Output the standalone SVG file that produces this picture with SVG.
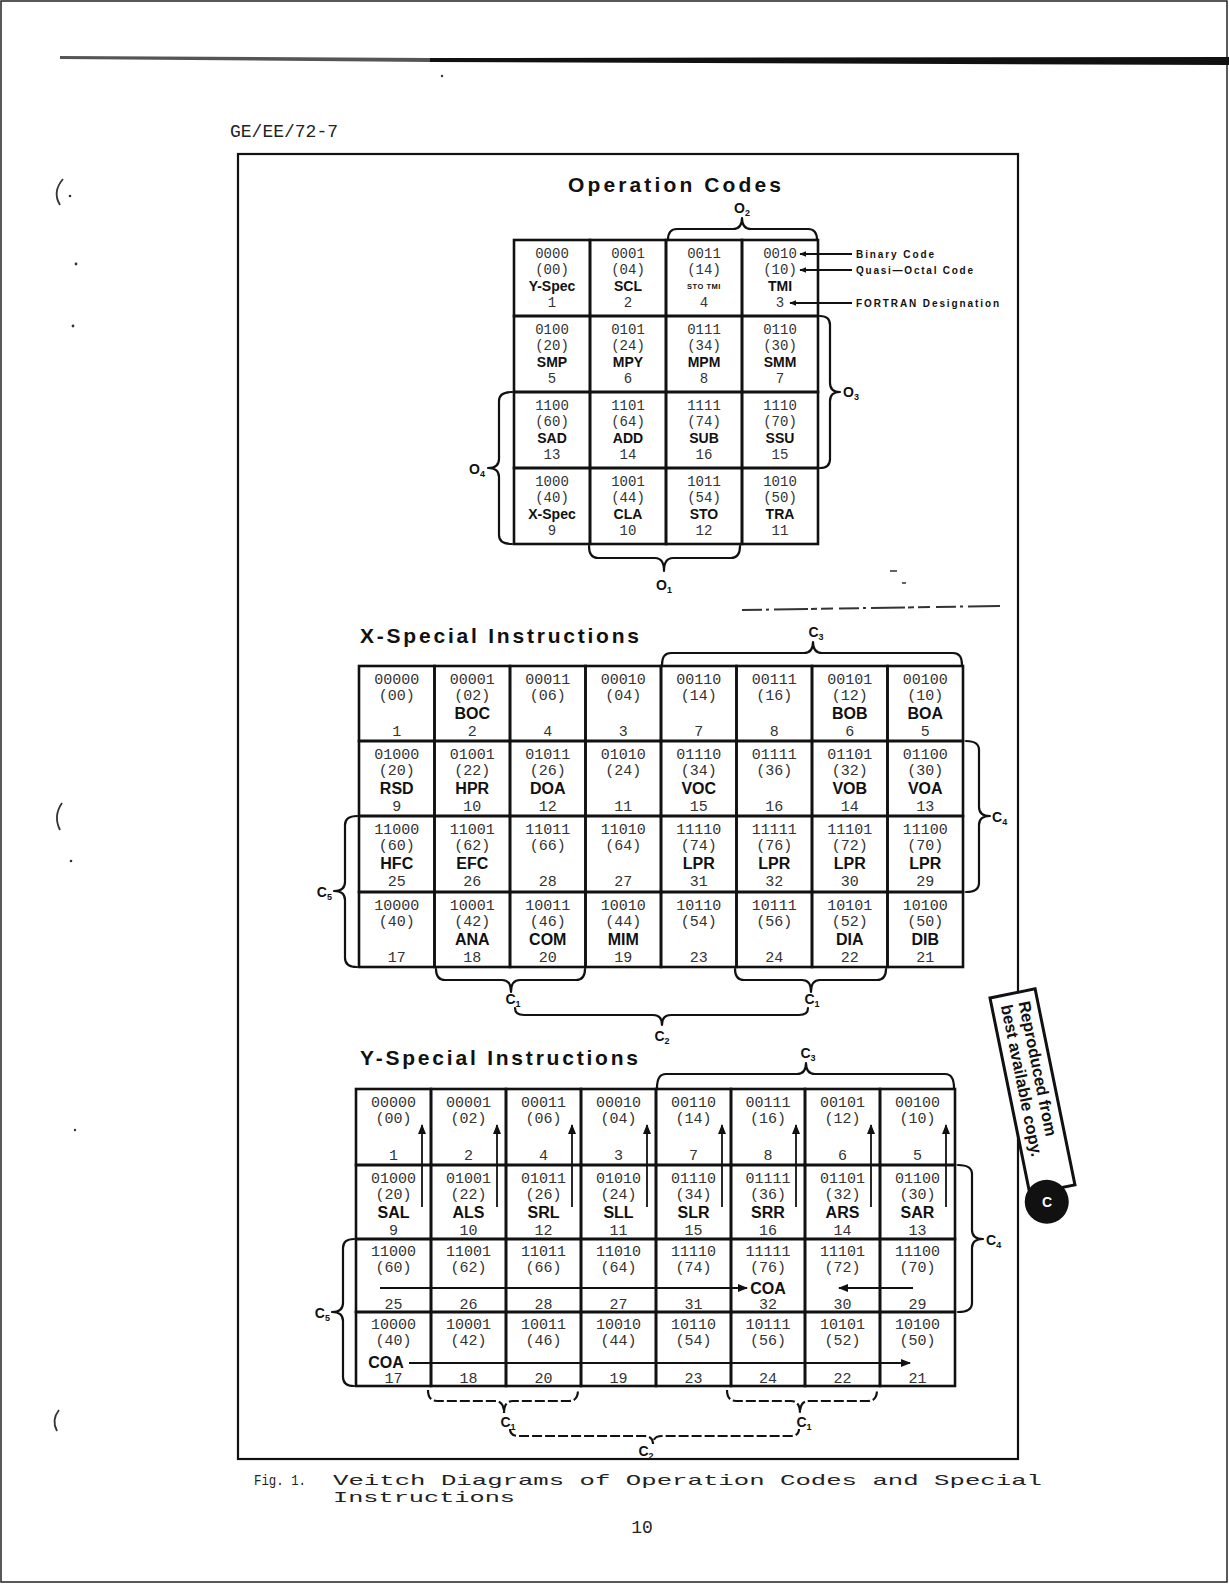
<svg xmlns="http://www.w3.org/2000/svg" width="1229" height="1584" viewBox="0 0 1229 1584">
<style>
.g{fill:none;stroke:#111;stroke-width:2.6}
.m{font-family:"Liberation Mono","DejaVu Sans Mono",monospace;font-size:15px;fill:#333;text-anchor:middle}
.mo{font-family:"Liberation Mono","DejaVu Sans Mono",monospace;font-size:14px;fill:#333;text-anchor:middle}
.nm{font-family:"Liberation Sans",Arial,sans-serif;font-weight:bold;font-size:16px;fill:#111;text-anchor:middle}
.no{font-family:"Liberation Sans",Arial,sans-serif;font-weight:bold;font-size:14px;fill:#111;text-anchor:middle}
.sm{font-family:"Liberation Sans",Arial,sans-serif;font-weight:bold;font-size:7.5px;letter-spacing:0.5px;fill:#111;text-anchor:middle}
.br{fill:none;stroke:#111;stroke-width:2.2;stroke-linejoin:round;stroke-linecap:round}
.brd{fill:none;stroke:#111;stroke-width:2.2;stroke-dasharray:10 3}
.lb{font-family:"Liberation Sans",Arial,sans-serif;font-weight:bold;font-size:14px;fill:#111}
.sub{font-size:9px}
.ttl{font-family:"Liberation Sans",Arial,sans-serif;font-weight:bold;font-size:21px;fill:#111}
.ann{font-family:"Liberation Sans",Arial,sans-serif;font-weight:bold;font-size:10px;fill:#111}
.ar{stroke:#111;stroke-width:1.8;fill:none}
.tw{font-family:"Liberation Mono","DejaVu Sans Mono",monospace;fill:#222}
.sp{fill:none;stroke:#333;stroke-width:1.8}
</style>
<defs>
<marker id="ah" markerUnits="userSpaceOnUse" markerWidth="10" markerHeight="8" viewBox="0 0 10 8" refX="9" refY="4" orient="auto"><path d="M0,0 L10,4 L0,8 Z" fill="#111"/></marker>
<marker id="as" markerUnits="userSpaceOnUse" markerWidth="7" markerHeight="6" viewBox="0 0 10 8" refX="9" refY="4" orient="auto"><path d="M0,0 L10,4 L0,8 Z" fill="#111"/></marker>
</defs>
<rect width="1229" height="1584" fill="#fff"/>
<rect x="1" y="1" width="1226" height="1581" fill="none" stroke="#222" stroke-width="1.5"/>
<g id="page">
<path d="M60,56 L430,58 L430,62 L60,59 Z" fill="#555"/>
<path d="M430,58 L1229,57 L1229,65 L430,62 Z" fill="#111"/>
<text class="tw" x="230" y="137" font-size="18">GE/EE/72-7</text>
<path class="sp" d="M63,179 Q52,192 60,205"/><circle cx="70" cy="196" r="1.3" fill="#333"/>
<circle cx="76" cy="264" r="1.4" fill="#333"/><circle cx="73" cy="326" r="1.4" fill="#333"/>
<path class="sp" d="M62,803 Q53,816 60,830"/><circle cx="71" cy="861" r="1.3" fill="#333"/>
<circle cx="75" cy="1130" r="1.2" fill="#333"/>
<path class="sp" d="M59,1410 Q51,1420 57,1431"/>
<circle cx="442" cy="76" r="1.2" fill="#333"/>
<path d="M742,610 L1000,606" stroke="#333" stroke-width="2" stroke-dasharray="20 4 3 5 34 3 6 4 12 6"/>
<path d="M890,571 L897,571 M902,583 L906,583" stroke="#333" stroke-width="1.6"/>
<rect x="238" y="154" width="780" height="1305" fill="none" stroke="#111" stroke-width="2.2"/>
<text class="tw" x="254" y="1485" font-size="15" textLength="52" lengthAdjust="spacingAndGlyphs">Fig. 1.</text>
<text class="tw" x="333" y="1485" font-size="15" textLength="709" lengthAdjust="spacingAndGlyphs">Veitch Diagrams of Operation Codes and Special</text>
<text class="tw" x="333" y="1502" font-size="15" textLength="182" lengthAdjust="spacingAndGlyphs">Instructions</text>
<text class="tw" x="642" y="1533" font-size="18" text-anchor="middle">10</text>
</g>
<g id="titles">
<text class="ttl" x="568" y="192" textLength="213" lengthAdjust="spacing">Operation Codes</text>
<text class="ttl" x="360" y="643" textLength="279" lengthAdjust="spacing">X-Special Instructions</text>
<text class="ttl" x="360" y="1065" textLength="278" lengthAdjust="spacing">Y-Special Instructions</text>
</g>
<!-- Operation Codes table -->
<g id="op-0000"><rect class="g" x="514" y="240" width="76" height="76"/><text class="mo" x="552" y="258">0000</text><text class="mo" x="552" y="274">(00)</text><text class="no" x="552" y="291">Y-Spec</text><text class="mo" x="552" y="307">1</text></g>
<g id="op-0001"><rect class="g" x="590" y="240" width="76" height="76"/><text class="mo" x="628" y="258">0001</text><text class="mo" x="628" y="274">(04)</text><text class="no" x="628" y="291">SCL</text><text class="mo" x="628" y="307">2</text></g>
<g id="op-0011"><rect class="g" x="666" y="240" width="76" height="76"/><text class="mo" x="704" y="258">0011</text><text class="mo" x="704" y="274">(14)</text><text class="sm" x="704" y="289">STO TMI</text><text class="mo" x="704" y="307">4</text></g>
<g id="op-0010"><rect class="g" x="742" y="240" width="76" height="76"/><text class="mo" x="780" y="258">0010</text><text class="mo" x="780" y="274">(10)</text><text class="no" x="780" y="291">TMI</text><text class="mo" x="780" y="307">3</text></g>
<g id="op-0100"><rect class="g" x="514" y="316" width="76" height="76"/><text class="mo" x="552" y="334">0100</text><text class="mo" x="552" y="350">(20)</text><text class="no" x="552" y="367">SMP</text><text class="mo" x="552" y="383">5</text></g>
<g id="op-0101"><rect class="g" x="590" y="316" width="76" height="76"/><text class="mo" x="628" y="334">0101</text><text class="mo" x="628" y="350">(24)</text><text class="no" x="628" y="367">MPY</text><text class="mo" x="628" y="383">6</text></g>
<g id="op-0111"><rect class="g" x="666" y="316" width="76" height="76"/><text class="mo" x="704" y="334">0111</text><text class="mo" x="704" y="350">(34)</text><text class="no" x="704" y="367">MPM</text><text class="mo" x="704" y="383">8</text></g>
<g id="op-0110"><rect class="g" x="742" y="316" width="76" height="76"/><text class="mo" x="780" y="334">0110</text><text class="mo" x="780" y="350">(30)</text><text class="no" x="780" y="367">SMM</text><text class="mo" x="780" y="383">7</text></g>
<g id="op-1100"><rect class="g" x="514" y="392" width="76" height="76"/><text class="mo" x="552" y="410">1100</text><text class="mo" x="552" y="426">(60)</text><text class="no" x="552" y="443">SAD</text><text class="mo" x="552" y="459">13</text></g>
<g id="op-1101"><rect class="g" x="590" y="392" width="76" height="76"/><text class="mo" x="628" y="410">1101</text><text class="mo" x="628" y="426">(64)</text><text class="no" x="628" y="443">ADD</text><text class="mo" x="628" y="459">14</text></g>
<g id="op-1111"><rect class="g" x="666" y="392" width="76" height="76"/><text class="mo" x="704" y="410">1111</text><text class="mo" x="704" y="426">(74)</text><text class="no" x="704" y="443">SUB</text><text class="mo" x="704" y="459">16</text></g>
<g id="op-1110"><rect class="g" x="742" y="392" width="76" height="76"/><text class="mo" x="780" y="410">1110</text><text class="mo" x="780" y="426">(70)</text><text class="no" x="780" y="443">SSU</text><text class="mo" x="780" y="459">15</text></g>
<g id="op-1000"><rect class="g" x="514" y="468" width="76" height="76"/><text class="mo" x="552" y="486">1000</text><text class="mo" x="552" y="502">(40)</text><text class="no" x="552" y="519">X-Spec</text><text class="mo" x="552" y="535">9</text></g>
<g id="op-1001"><rect class="g" x="590" y="468" width="76" height="76"/><text class="mo" x="628" y="486">1001</text><text class="mo" x="628" y="502">(44)</text><text class="no" x="628" y="519">CLA</text><text class="mo" x="628" y="535">10</text></g>
<g id="op-1011"><rect class="g" x="666" y="468" width="76" height="76"/><text class="mo" x="704" y="486">1011</text><text class="mo" x="704" y="502">(54)</text><text class="no" x="704" y="519">STO</text><text class="mo" x="704" y="535">12</text></g>
<g id="op-1010"><rect class="g" x="742" y="468" width="76" height="76"/><text class="mo" x="780" y="486">1010</text><text class="mo" x="780" y="502">(50)</text><text class="no" x="780" y="519">TRA</text><text class="mo" x="780" y="535">11</text></g>
<g id="op-legend">
<text class="ann" x="856" y="258" textLength="78" lengthAdjust="spacing">Binary Code</text>
<text class="ann" x="856" y="274" textLength="117" lengthAdjust="spacing">Quasi—Octal Code</text>
<text class="ann" x="856" y="307" textLength="143" lengthAdjust="spacing">FORTRAN Designation</text>
</g>
<!-- X-Special table -->
<g id="x-00000"><rect class="g" x="359" y="666" width="75.5" height="75"/><text class="m" x="396.75" y="684">00000</text><text class="m" x="396.75" y="700">(00)</text><text class="m" x="396.75" y="736">1</text></g>
<g id="x-00001"><rect class="g" x="434.5" y="666" width="75.5" height="75"/><text class="m" x="472.25" y="684">00001</text><text class="m" x="472.25" y="700">(02)</text><text class="nm" x="472.25" y="719">BOC</text><text class="m" x="472.25" y="736">2</text></g>
<g id="x-00011"><rect class="g" x="510" y="666" width="75.5" height="75"/><text class="m" x="547.75" y="684">00011</text><text class="m" x="547.75" y="700">(06)</text><text class="m" x="547.75" y="736">4</text></g>
<g id="x-00010"><rect class="g" x="585.5" y="666" width="75.5" height="75"/><text class="m" x="623.25" y="684">00010</text><text class="m" x="623.25" y="700">(04)</text><text class="m" x="623.25" y="736">3</text></g>
<g id="x-00110"><rect class="g" x="661" y="666" width="75.5" height="75"/><text class="m" x="698.75" y="684">00110</text><text class="m" x="698.75" y="700">(14)</text><text class="m" x="698.75" y="736">7</text></g>
<g id="x-00111"><rect class="g" x="736.5" y="666" width="75.5" height="75"/><text class="m" x="774.25" y="684">00111</text><text class="m" x="774.25" y="700">(16)</text><text class="m" x="774.25" y="736">8</text></g>
<g id="x-00101"><rect class="g" x="812" y="666" width="75.5" height="75"/><text class="m" x="849.75" y="684">00101</text><text class="m" x="849.75" y="700">(12)</text><text class="nm" x="849.75" y="719">BOB</text><text class="m" x="849.75" y="736">6</text></g>
<g id="x-00100"><rect class="g" x="887.5" y="666" width="75.5" height="75"/><text class="m" x="925.25" y="684">00100</text><text class="m" x="925.25" y="700">(10)</text><text class="nm" x="925.25" y="719">BOA</text><text class="m" x="925.25" y="736">5</text></g>
<g id="x-01000"><rect class="g" x="359" y="741" width="75.5" height="75"/><text class="m" x="396.75" y="759">01000</text><text class="m" x="396.75" y="775">(20)</text><text class="nm" x="396.75" y="794">RSD</text><text class="m" x="396.75" y="811">9</text></g>
<g id="x-01001"><rect class="g" x="434.5" y="741" width="75.5" height="75"/><text class="m" x="472.25" y="759">01001</text><text class="m" x="472.25" y="775">(22)</text><text class="nm" x="472.25" y="794">HPR</text><text class="m" x="472.25" y="811">10</text></g>
<g id="x-01011"><rect class="g" x="510" y="741" width="75.5" height="75"/><text class="m" x="547.75" y="759">01011</text><text class="m" x="547.75" y="775">(26)</text><text class="nm" x="547.75" y="794">DOA</text><text class="m" x="547.75" y="811">12</text></g>
<g id="x-01010"><rect class="g" x="585.5" y="741" width="75.5" height="75"/><text class="m" x="623.25" y="759">01010</text><text class="m" x="623.25" y="775">(24)</text><text class="m" x="623.25" y="811">11</text></g>
<g id="x-01110"><rect class="g" x="661" y="741" width="75.5" height="75"/><text class="m" x="698.75" y="759">01110</text><text class="m" x="698.75" y="775">(34)</text><text class="nm" x="698.75" y="794">VOC</text><text class="m" x="698.75" y="811">15</text></g>
<g id="x-01111"><rect class="g" x="736.5" y="741" width="75.5" height="75"/><text class="m" x="774.25" y="759">01111</text><text class="m" x="774.25" y="775">(36)</text><text class="m" x="774.25" y="811">16</text></g>
<g id="x-01101"><rect class="g" x="812" y="741" width="75.5" height="75"/><text class="m" x="849.75" y="759">01101</text><text class="m" x="849.75" y="775">(32)</text><text class="nm" x="849.75" y="794">VOB</text><text class="m" x="849.75" y="811">14</text></g>
<g id="x-01100"><rect class="g" x="887.5" y="741" width="75.5" height="75"/><text class="m" x="925.25" y="759">01100</text><text class="m" x="925.25" y="775">(30)</text><text class="nm" x="925.25" y="794">VOA</text><text class="m" x="925.25" y="811">13</text></g>
<g id="x-11000"><rect class="g" x="359" y="816" width="75.5" height="76"/><text class="m" x="396.75" y="834">11000</text><text class="m" x="396.75" y="850">(60)</text><text class="nm" x="396.75" y="869">HFC</text><text class="m" x="396.75" y="886">25</text></g>
<g id="x-11001"><rect class="g" x="434.5" y="816" width="75.5" height="76"/><text class="m" x="472.25" y="834">11001</text><text class="m" x="472.25" y="850">(62)</text><text class="nm" x="472.25" y="869">EFC</text><text class="m" x="472.25" y="886">26</text></g>
<g id="x-11011"><rect class="g" x="510" y="816" width="75.5" height="76"/><text class="m" x="547.75" y="834">11011</text><text class="m" x="547.75" y="850">(66)</text><text class="m" x="547.75" y="886">28</text></g>
<g id="x-11010"><rect class="g" x="585.5" y="816" width="75.5" height="76"/><text class="m" x="623.25" y="834">11010</text><text class="m" x="623.25" y="850">(64)</text><text class="m" x="623.25" y="886">27</text></g>
<g id="x-11110"><rect class="g" x="661" y="816" width="75.5" height="76"/><text class="m" x="698.75" y="834">11110</text><text class="m" x="698.75" y="850">(74)</text><text class="nm" x="698.75" y="869">LPR</text><text class="m" x="698.75" y="886">31</text></g>
<g id="x-11111"><rect class="g" x="736.5" y="816" width="75.5" height="76"/><text class="m" x="774.25" y="834">11111</text><text class="m" x="774.25" y="850">(76)</text><text class="nm" x="774.25" y="869">LPR</text><text class="m" x="774.25" y="886">32</text></g>
<g id="x-11101"><rect class="g" x="812" y="816" width="75.5" height="76"/><text class="m" x="849.75" y="834">11101</text><text class="m" x="849.75" y="850">(72)</text><text class="nm" x="849.75" y="869">LPR</text><text class="m" x="849.75" y="886">30</text></g>
<g id="x-11100"><rect class="g" x="887.5" y="816" width="75.5" height="76"/><text class="m" x="925.25" y="834">11100</text><text class="m" x="925.25" y="850">(70)</text><text class="nm" x="925.25" y="869">LPR</text><text class="m" x="925.25" y="886">29</text></g>
<g id="x-10000"><rect class="g" x="359" y="892" width="75.5" height="75"/><text class="m" x="396.75" y="910">10000</text><text class="m" x="396.75" y="926">(40)</text><text class="m" x="396.75" y="962">17</text></g>
<g id="x-10001"><rect class="g" x="434.5" y="892" width="75.5" height="75"/><text class="m" x="472.25" y="910">10001</text><text class="m" x="472.25" y="926">(42)</text><text class="nm" x="472.25" y="945">ANA</text><text class="m" x="472.25" y="962">18</text></g>
<g id="x-10011"><rect class="g" x="510" y="892" width="75.5" height="75"/><text class="m" x="547.75" y="910">10011</text><text class="m" x="547.75" y="926">(46)</text><text class="nm" x="547.75" y="945">COM</text><text class="m" x="547.75" y="962">20</text></g>
<g id="x-10010"><rect class="g" x="585.5" y="892" width="75.5" height="75"/><text class="m" x="623.25" y="910">10010</text><text class="m" x="623.25" y="926">(44)</text><text class="nm" x="623.25" y="945">MIM</text><text class="m" x="623.25" y="962">19</text></g>
<g id="x-10110"><rect class="g" x="661" y="892" width="75.5" height="75"/><text class="m" x="698.75" y="910">10110</text><text class="m" x="698.75" y="926">(54)</text><text class="m" x="698.75" y="962">23</text></g>
<g id="x-10111"><rect class="g" x="736.5" y="892" width="75.5" height="75"/><text class="m" x="774.25" y="910">10111</text><text class="m" x="774.25" y="926">(56)</text><text class="m" x="774.25" y="962">24</text></g>
<g id="x-10101"><rect class="g" x="812" y="892" width="75.5" height="75"/><text class="m" x="849.75" y="910">10101</text><text class="m" x="849.75" y="926">(52)</text><text class="nm" x="849.75" y="945">DIA</text><text class="m" x="849.75" y="962">22</text></g>
<g id="x-10100"><rect class="g" x="887.5" y="892" width="75.5" height="75"/><text class="m" x="925.25" y="910">10100</text><text class="m" x="925.25" y="926">(50)</text><text class="nm" x="925.25" y="945">DIB</text><text class="m" x="925.25" y="962">21</text></g>
<!-- Y-Special table -->
<g id="y-00000"><rect class="g" x="356" y="1089" width="75" height="76"/><text class="m" x="393.5" y="1107">00000</text><text class="m" x="393.5" y="1123">(00)</text><text class="m" x="393.5" y="1160">1</text></g>
<g id="y-00001"><rect class="g" x="431" y="1089" width="75" height="76"/><text class="m" x="468.5" y="1107">00001</text><text class="m" x="468.5" y="1123">(02)</text><text class="m" x="468.5" y="1160">2</text></g>
<g id="y-00011"><rect class="g" x="506" y="1089" width="75" height="76"/><text class="m" x="543.5" y="1107">00011</text><text class="m" x="543.5" y="1123">(06)</text><text class="m" x="543.5" y="1160">4</text></g>
<g id="y-00010"><rect class="g" x="581" y="1089" width="75" height="76"/><text class="m" x="618.5" y="1107">00010</text><text class="m" x="618.5" y="1123">(04)</text><text class="m" x="618.5" y="1160">3</text></g>
<g id="y-00110"><rect class="g" x="656" y="1089" width="75" height="76"/><text class="m" x="693.5" y="1107">00110</text><text class="m" x="693.5" y="1123">(14)</text><text class="m" x="693.5" y="1160">7</text></g>
<g id="y-00111"><rect class="g" x="731" y="1089" width="74" height="76"/><text class="m" x="768" y="1107">00111</text><text class="m" x="768" y="1123">(16)</text><text class="m" x="768" y="1160">8</text></g>
<g id="y-00101"><rect class="g" x="805" y="1089" width="75" height="76"/><text class="m" x="842.5" y="1107">00101</text><text class="m" x="842.5" y="1123">(12)</text><text class="m" x="842.5" y="1160">6</text></g>
<g id="y-00100"><rect class="g" x="880" y="1089" width="75" height="76"/><text class="m" x="917.5" y="1107">00100</text><text class="m" x="917.5" y="1123">(10)</text><text class="m" x="917.5" y="1160">5</text></g>
<g id="y-01000"><rect class="g" x="356" y="1165" width="75" height="74"/><text class="m" x="393.5" y="1183">01000</text><text class="m" x="393.5" y="1199">(20)</text><text class="nm" x="393.5" y="1218">SAL</text><text class="m" x="393.5" y="1235">9</text></g>
<g id="y-01001"><rect class="g" x="431" y="1165" width="75" height="74"/><text class="m" x="468.5" y="1183">01001</text><text class="m" x="468.5" y="1199">(22)</text><text class="nm" x="468.5" y="1218">ALS</text><text class="m" x="468.5" y="1235">10</text></g>
<g id="y-01011"><rect class="g" x="506" y="1165" width="75" height="74"/><text class="m" x="543.5" y="1183">01011</text><text class="m" x="543.5" y="1199">(26)</text><text class="nm" x="543.5" y="1218">SRL</text><text class="m" x="543.5" y="1235">12</text></g>
<g id="y-01010"><rect class="g" x="581" y="1165" width="75" height="74"/><text class="m" x="618.5" y="1183">01010</text><text class="m" x="618.5" y="1199">(24)</text><text class="nm" x="618.5" y="1218">SLL</text><text class="m" x="618.5" y="1235">11</text></g>
<g id="y-01110"><rect class="g" x="656" y="1165" width="75" height="74"/><text class="m" x="693.5" y="1183">01110</text><text class="m" x="693.5" y="1199">(34)</text><text class="nm" x="693.5" y="1218">SLR</text><text class="m" x="693.5" y="1235">15</text></g>
<g id="y-01111"><rect class="g" x="731" y="1165" width="74" height="74"/><text class="m" x="768" y="1183">01111</text><text class="m" x="768" y="1199">(36)</text><text class="nm" x="768" y="1218">SRR</text><text class="m" x="768" y="1235">16</text></g>
<g id="y-01101"><rect class="g" x="805" y="1165" width="75" height="74"/><text class="m" x="842.5" y="1183">01101</text><text class="m" x="842.5" y="1199">(32)</text><text class="nm" x="842.5" y="1218">ARS</text><text class="m" x="842.5" y="1235">14</text></g>
<g id="y-01100"><rect class="g" x="880" y="1165" width="75" height="74"/><text class="m" x="917.5" y="1183">01100</text><text class="m" x="917.5" y="1199">(30)</text><text class="nm" x="917.5" y="1218">SAR</text><text class="m" x="917.5" y="1235">13</text></g>
<g id="y-11000"><rect class="g" x="356" y="1239" width="75" height="73"/><text class="m" x="393.5" y="1256">11000</text><text class="m" x="393.5" y="1272">(60)</text><text class="m" x="393.5" y="1309">25</text></g>
<g id="y-11001"><rect class="g" x="431" y="1239" width="75" height="73"/><text class="m" x="468.5" y="1256">11001</text><text class="m" x="468.5" y="1272">(62)</text><text class="m" x="468.5" y="1309">26</text></g>
<g id="y-11011"><rect class="g" x="506" y="1239" width="75" height="73"/><text class="m" x="543.5" y="1256">11011</text><text class="m" x="543.5" y="1272">(66)</text><text class="m" x="543.5" y="1309">28</text></g>
<g id="y-11010"><rect class="g" x="581" y="1239" width="75" height="73"/><text class="m" x="618.5" y="1256">11010</text><text class="m" x="618.5" y="1272">(64)</text><text class="m" x="618.5" y="1309">27</text></g>
<g id="y-11110"><rect class="g" x="656" y="1239" width="75" height="73"/><text class="m" x="693.5" y="1256">11110</text><text class="m" x="693.5" y="1272">(74)</text><text class="m" x="693.5" y="1309">31</text></g>
<g id="y-11111"><rect class="g" x="731" y="1239" width="74" height="73"/><text class="m" x="768" y="1256">11111</text><text class="m" x="768" y="1272">(76)</text><text class="nm" x="768" y="1294">COA</text><text class="m" x="768" y="1309">32</text></g>
<g id="y-11101"><rect class="g" x="805" y="1239" width="75" height="73"/><text class="m" x="842.5" y="1256">11101</text><text class="m" x="842.5" y="1272">(72)</text><text class="m" x="842.5" y="1309">30</text></g>
<g id="y-11100"><rect class="g" x="880" y="1239" width="75" height="73"/><text class="m" x="917.5" y="1256">11100</text><text class="m" x="917.5" y="1272">(70)</text><text class="m" x="917.5" y="1309">29</text></g>
<g id="y-10000"><rect class="g" x="356" y="1312" width="75" height="74"/><text class="m" x="393.5" y="1329">10000</text><text class="m" x="393.5" y="1345">(40)</text><text class="nm" x="386" y="1368">COA</text><text class="m" x="393.5" y="1383">17</text></g>
<g id="y-10001"><rect class="g" x="431" y="1312" width="75" height="74"/><text class="m" x="468.5" y="1329">10001</text><text class="m" x="468.5" y="1345">(42)</text><text class="m" x="468.5" y="1383">18</text></g>
<g id="y-10011"><rect class="g" x="506" y="1312" width="75" height="74"/><text class="m" x="543.5" y="1329">10011</text><text class="m" x="543.5" y="1345">(46)</text><text class="m" x="543.5" y="1383">20</text></g>
<g id="y-10010"><rect class="g" x="581" y="1312" width="75" height="74"/><text class="m" x="618.5" y="1329">10010</text><text class="m" x="618.5" y="1345">(44)</text><text class="m" x="618.5" y="1383">19</text></g>
<g id="y-10110"><rect class="g" x="656" y="1312" width="75" height="74"/><text class="m" x="693.5" y="1329">10110</text><text class="m" x="693.5" y="1345">(54)</text><text class="m" x="693.5" y="1383">23</text></g>
<g id="y-10111"><rect class="g" x="731" y="1312" width="74" height="74"/><text class="m" x="768" y="1329">10111</text><text class="m" x="768" y="1345">(56)</text><text class="m" x="768" y="1383">24</text></g>
<g id="y-10101"><rect class="g" x="805" y="1312" width="75" height="74"/><text class="m" x="842.5" y="1329">10101</text><text class="m" x="842.5" y="1345">(52)</text><text class="m" x="842.5" y="1383">22</text></g>
<g id="y-10100"><rect class="g" x="880" y="1312" width="75" height="74"/><text class="m" x="917.5" y="1329">10100</text><text class="m" x="917.5" y="1345">(50)</text><text class="m" x="917.5" y="1383">21</text></g>
<!-- connectors: braces and arrows -->
<g id="connectors">
<path class="ar" d="M852,254 L800,254" marker-end="url(#as)"/>
<path class="ar" d="M852,270 L800,270" marker-end="url(#as)"/>
<path class="ar" d="M852,303 L790,303" marker-end="url(#as)"/>
<path class="br" d="M668,240 Q668,229 677,229 L733,229 Q742,229 742,218 Q742,229 751,229 L808,229 Q817,229 817,240"/>
<path class="br" d="M820,316 Q830,316 830,325 L830,383 Q830,392 840,392 Q830,392 830,401 L830,459 Q830,468 820,468"/>
<path class="br" d="M512,392 Q499,392 499,401 L499,459 Q499,468 488,468 Q499,468 499,477 L499,535 Q499,544 512,544"/>
<path class="br" d="M589,546 Q589,558 598,558 L655,558 Q664,558 664,571 Q664,558 673,558 L731,558 Q740,558 740,546"/>
<path class="br" d="M662,665 Q662,653 671,653 L804,653 Q813,653 813,642 Q813,653 822,653 L953,653 Q962,653 962,665"/>
<path class="br" d="M966,741 Q979,741 979,750 L979,807 Q979,816 990,816 Q979,816 979,825 L979,883 Q979,892 966,892"/>
<path class="br" d="M357,816 Q345,816 345,825 L345,882 Q345,891 334,891 Q345,891 345,900 L345,958 Q345,967 357,967"/>
<path class="br" d="M436,969 Q436,980 445,980 L502,980 Q511,980 511,992 Q511,980 520,980 L576,980 Q585,980 585,969"/>
<path class="br" d="M735,969 Q735,980 744,980 L802,980 Q811,980 811,992 Q811,980 820,980 L877,980 Q886,980 886,969"/>
<path class="br" d="M515,1008 Q515,1015 524,1015 L653,1015 Q662,1015 662,1025 Q662,1015 671,1015 L799,1015 Q808,1015 808,1008"/>
<path class="br" d="M657,1088 Q657,1074 666,1074 L797,1074 Q806,1074 806,1063 Q806,1074 815,1074 L945,1074 Q954,1074 954,1088"/>
<path class="br" d="M958,1165 Q972,1165 972,1174 L972,1230 Q972,1239 983,1239 Q972,1239 972,1248 L972,1303 Q972,1312 958,1312"/>
<path class="br" d="M354,1239 Q343,1239 343,1248 L343,1303 Q343,1312 332,1312 Q343,1312 343,1321 L343,1377 Q343,1386 354,1386"/>
<path class="brd" d="M428,1390 Q428,1401 437,1401 L495,1401 Q504,1401 504,1413 Q504,1401 513,1401 L569,1401 Q578,1401 578,1390"/>
<path class="brd" d="M727,1390 Q727,1401 736,1401 L791,1401 Q800,1401 800,1413 Q800,1401 809,1401 L868,1401 Q877,1401 877,1390"/>
<path class="brd" d="M510,1429 Q510,1436 519,1436 L644,1436 Q653,1436 653,1444 Q653,1436 662,1436 L790,1436 Q799,1436 799,1429"/>
<path class="ar" d="M422,1207 L422,1125" marker-end="url(#ah)"/>
<path class="ar" d="M497,1207 L497,1125" marker-end="url(#ah)"/>
<path class="ar" d="M572,1207 L572,1125" marker-end="url(#ah)"/>
<path class="ar" d="M647,1207 L647,1125" marker-end="url(#ah)"/>
<path class="ar" d="M722,1207 L722,1125" marker-end="url(#ah)"/>
<path class="ar" d="M796,1207 L796,1125" marker-end="url(#ah)"/>
<path class="ar" d="M871,1207 L871,1125" marker-end="url(#ah)"/>
<path class="ar" d="M946,1207 L946,1125" marker-end="url(#ah)"/>
<path class="ar" stroke-width="2.2" d="M380,1288 L747,1288" marker-end="url(#ah)"/>
<path class="ar" stroke-width="2.2" d="M913,1288 L839,1288" marker-end="url(#ah)"/>
<path class="ar" stroke-width="2.2" d="M409,1363 L910,1363" marker-end="url(#ah)"/>
</g>
<g id="brace-labels">
<text class="lb" x="742" y="213" text-anchor="middle">O<tspan class="sub" dy="3">2</tspan></text>
<text class="lb" x="843" y="397">O<tspan class="sub" dy="3">3</tspan></text>
<text class="lb" x="485" y="474" text-anchor="end">O<tspan class="sub" dy="3">4</tspan></text>
<text class="lb" x="664" y="590" text-anchor="middle">O<tspan class="sub" dy="3">1</tspan></text>
<text class="lb" x="816" y="637" text-anchor="middle">C<tspan class="sub" dy="3">3</tspan></text>
<text class="lb" x="992" y="822">C<tspan class="sub" dy="3">4</tspan></text>
<text class="lb" x="332" y="897" text-anchor="end">C<tspan class="sub" dy="3">5</tspan></text>
<text class="lb" x="513" y="1004" text-anchor="middle">C<tspan class="sub" dy="3">1</tspan></text>
<text class="lb" x="812" y="1004" text-anchor="middle">C<tspan class="sub" dy="3">1</tspan></text>
<text class="lb" x="662" y="1041" text-anchor="middle">C<tspan class="sub" dy="3">2</tspan></text>
<text class="lb" x="808" y="1058" text-anchor="middle">C<tspan class="sub" dy="3">3</tspan></text>
<text class="lb" x="986" y="1245">C<tspan class="sub" dy="3">4</tspan></text>
<text class="lb" x="330" y="1318" text-anchor="end">C<tspan class="sub" dy="3">5</tspan></text>
<text class="lb" x="508" y="1427" text-anchor="middle">C<tspan class="sub" dy="3">1</tspan></text>
<text class="lb" x="804" y="1427" text-anchor="middle">C<tspan class="sub" dy="3">1</tspan></text>
<text class="lb" x="646" y="1456" text-anchor="middle">C<tspan class="sub" dy="3">2</tspan></text>
</g>
<g id="stamp" transform="translate(990,998) rotate(78.5)">
<rect x="0" y="-46" width="200" height="46" fill="#fff" stroke="#111" stroke-width="3"/>
<text x="10" y="-27" font-family="Liberation Sans, Arial, sans-serif" font-weight="bold" font-size="16.5" fill="#111">Reproduced from</text>
<text x="10" y="-9" font-family="Liberation Sans, Arial, sans-serif" font-weight="bold" font-size="16.5" fill="#111">best available copy.</text>
<circle cx="211" cy="-15" r="22" fill="#111"/>
</g>
<text x="1047" y="1207" font-family="Liberation Sans, Arial, sans-serif" font-weight="bold" font-size="14" fill="#fff" text-anchor="middle">C</text>
</svg>
